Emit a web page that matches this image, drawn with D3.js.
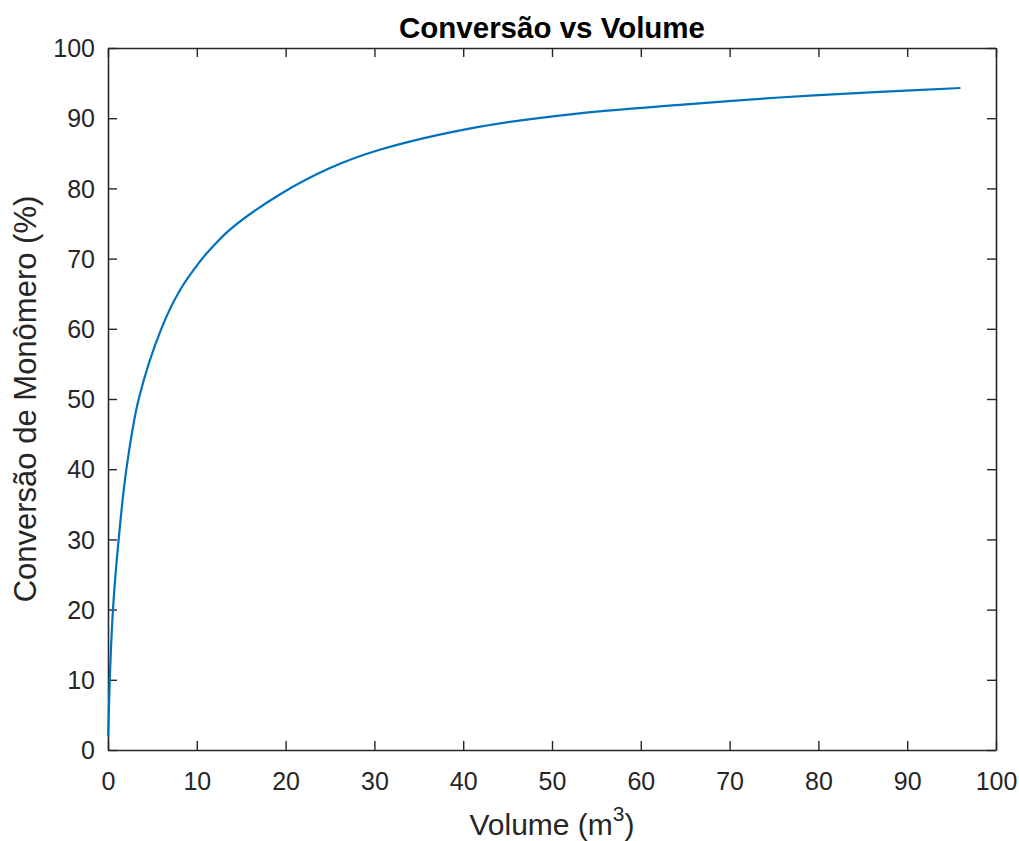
<!DOCTYPE html>
<html>
<head>
<meta charset="utf-8">
<script src="https://cdn.jsdelivr.net/npm/d3@7"></script>
<style>
  html, body { margin: 0; padding: 0; background: #fff; }
  svg { display: block; font-family: "Liberation Sans", Arial, Helvetica, sans-serif; }
</style>
</head>
<body>
<svg id="chart" width="1019" height="841"></svg>
<script>
// Reactor volume (m³) and monomer conversion (%)
const volume = [0.02, 0.2, 0.56, 1.2, 2.07, 3.46, 6.0, 8.1, 10.3, 11.3, 13.7, 19.3, 25, 30.6, 41.9, 53.1, 64.4, 75.6, 86.9, 96];
const conversion = [2, 10, 20, 30, 40, 50, 60, 65.5, 69.5, 71.0, 74.1, 79.1, 82.9, 85.5, 88.8, 90.7, 91.9, 92.95, 93.75, 94.3];

const xTicks = [0, 10, 20, 30, 40, 50, 60, 70, 80, 90, 100];
const yTicks = [0, 10, 20, 30, 40, 50, 60, 70, 80, 90, 100];

const titleText = "Conversão vs Volume";
const xLabelText = "Volume (m";
const xLabelSup = "3";
const yLabelText = "Conversão de Monômero (%)";

const svg = d3.select("#chart");
const margin = { left: 108, right: 1019 - 996, top: 48, bottom: 841 - 750 };
const W = 1019, H = 841;
const axisColor = "#262626";

const x = d3.scaleLinear().domain([0, 100]).range([margin.left, W - margin.right]);
const y = d3.scaleLinear().domain([0, 100]).range([H - margin.bottom, margin.top]);

const tickLen = 9;

// Bottom axis with inward ticks
const gx = svg.append("g")
  .attr("transform", `translate(0,${y(0)})`)
  .call(d3.axisBottom(x).tickValues(xTicks).tickSizeInner(-tickLen).tickSizeOuter(0).tickPadding(0));
// Left axis with inward ticks
const gy = svg.append("g")
  .attr("transform", `translate(${x(0)},0)`)
  .call(d3.axisLeft(y).tickValues(yTicks).tickSizeInner(-tickLen).tickSizeOuter(0).tickPadding(0));
// Top and right box edges with inward ticks, no labels
const gt = svg.append("g")
  .attr("transform", `translate(0,${y(100)})`)
  .call(d3.axisTop(x).tickValues(xTicks).tickSizeInner(-tickLen).tickSizeOuter(0).tickFormat(""));
const gr = svg.append("g")
  .attr("transform", `translate(${x(100)},0)`)
  .call(d3.axisRight(y).tickValues(yTicks).tickSizeInner(-tickLen).tickSizeOuter(0).tickFormat(""));

[gx, gy, gt, gr].forEach(g => {
  g.select(".domain").attr("stroke", axisColor).attr("stroke-width", 1.6);
  g.selectAll(".tick line").attr("stroke", axisColor).attr("stroke-width", 1.4);
});

gx.selectAll(".tick text")
  .attr("y", 40)
  .attr("dy", 0)
  .attr("fill", axisColor)
  .attr("font-size", 25)
  .attr("font-family", "Liberation Sans, Arial, sans-serif");

gy.selectAll(".tick text")
  .attr("x", -13)
  .attr("dy", "0.35em")
  .attr("fill", axisColor)
  .attr("font-size", 25)
  .attr("font-family", "Liberation Sans, Arial, sans-serif");

// Conversion curve
const line = d3.line()
  .x((d, i) => x(volume[i]))
  .y(d => y(d))
  .curve(d3.curveCatmullRom.alpha(0.5));

svg.append("path")
  .datum(conversion)
  .attr("fill", "none")
  .attr("stroke", "#0072BD")
  .attr("stroke-width", 2.2)
  .attr("stroke-linejoin", "round")
  .attr("d", line);

// Title
svg.append("text")
  .attr("x", (x(0) + x(100)) / 2)
  .attr("y", 38)
  .attr("text-anchor", "middle")
  .attr("font-size", 29.5)
  .attr("font-weight", "bold")
  .attr("fill", "#000")
  .text(titleText);

// X axis label with superscript
const xl = svg.append("text")
  .attr("x", (x(0) + x(100)) / 2)
  .attr("y", 835)
  .attr("text-anchor", "middle")
  .attr("font-size", 30)
  .attr("fill", axisColor);
xl.append("tspan").text(xLabelText);
xl.append("tspan").attr("font-size", 21).attr("dy", -14).text(xLabelSup);
xl.append("tspan").attr("dy", 14).text(")");

// Y axis label
svg.append("text")
  .attr("transform", `translate(36,${(y(0) + y(100)) / 2}) rotate(-90)`)
  .attr("text-anchor", "middle")
  .attr("font-size", 31)
  .attr("fill", axisColor)
  .text(yLabelText);
</script>
</body>
</html>
